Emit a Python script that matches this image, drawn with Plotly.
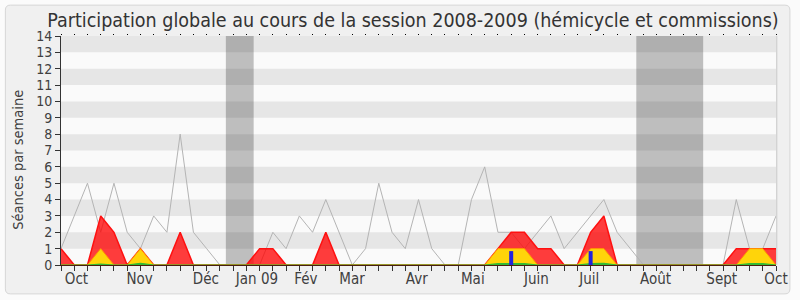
import plotly.graph_objects as go

# ---------------- data ----------------
weeks = list(range(55))
gray_total = [1, 3, 5, 2, 5, 2, 1, 3, 2, 8, 2, 1, 0, 0, 0, 0, 2, 1, 3, 2,
              4, 2, 0, 1, 5, 2, 1, 4, 1, 0, 0, 4, 6, 2, 2, 1, 2, 3, 1, 2,
              3, 4, 2, 1, 0, 0, 0, 0, 0, 0, 0, 4, 1, 1, 3]
red_series = [1, 0, 0, 3, 2, 0, 1, 0, 0, 2, 0, 0, 0, 0, 0, 1, 1, 0, 0, 0,
              2, 0, 0, 0, 0, 0, 0, 0, 0, 0, 0, 0, 0, 1, 2, 2, 1, 1, 0, 0,
              2, 3, 0, 0, 0, 0, 0, 0, 0, 0, 0, 1, 1, 1, 1]
yellow_series = [0, 0, 0, 1, 0, 0, 1, 0, 0, 0, 0, 0, 0, 0, 0, 0, 0, 0, 0, 0,
                 0, 0, 0, 0, 0, 0, 0, 0, 0, 0, 0, 0, 0, 1, 1, 1, 0, 0, 0, 0,
                 1, 1, 0, 0, 0, 0, 0, 0, 0, 0, 0, 0, 1, 1, 0]
green_series = [0, 0, 0, 0.05, 0, 0, 0.1, 0, 0, 0, 0, 0, 0, 0, 0, 0, 0, 0, 0, 0,
                0, 0, 0, 0, 0, 0, 0, 0, 0, 0, 0, 0, 0, 0.08, 0.08, 0.08, 0, 0, 0, 0,
                0.08, 0.1, 0, 0, 0, 0, 0, 0, 0, 0, 0, 0, 0.08, 0.08, 0]
blue_weeks = [34, 40]
blue_values = [0.85, 0.85]
month_labels = ["Oct", "Nov", "Déc", "Jan 09", "Fév", "Mar", "Avr", "Mai",
                "Juin", "Juil", "Août", "Sept", "Oct"]
month_label_weeks = [1.17, 5.94, 10.94, 14.8, 18.5, 21.98, 26.87, 31.1,
                     35.9, 39.9, 44.9, 49.9, 54.0]
vacation_start = [12.45, 43.45]
vacation_end = [14.55, 48.5]
y_ticks = list(range(0, 15))

# ---------------- layout constants ----------------
W, H = 800, 300
L, R, T, B = 61, 19, 36, 34
PW, PH = W - L - R, H - T - B
FONT = "DejaVu Sans Condensed, DejaVu Sans, sans-serif"


def px_x(p):
    return (p - L) / PW


def px_y(p):
    return (H - B - p) / PH


fig = go.Figure()

fig.add_trace(go.Scatter(x=weeks, y=gray_total, mode="lines",
                         line=dict(color="#b4b4b4", width=1), hoverinfo="skip"))
fig.add_trace(go.Scatter(x=weeks, y=red_series, mode="lines", fill="tozeroy",
                         fillcolor="rgba(255,0,0,0.76)",
                         line=dict(color="#ff1010", width=1.5), hoverinfo="skip"))
fig.add_trace(go.Scatter(x=weeks, y=yellow_series, mode="lines", fill="tozeroy",
                         fillcolor="rgb(255,212,10)",
                         line=dict(color="#ff9a00", width=1), hoverinfo="skip"))
fig.add_trace(go.Scatter(x=weeks, y=green_series, mode="lines", fill="tozeroy",
                         fillcolor="#33bb33",
                         line=dict(color="#33bb33", width=1.2), hoverinfo="skip"))
# blue bars drawn as thick vertical segments so they sit above the fills
bx, by = [], []
for w, v in zip(blue_weeks, blue_values):
    bx += [w, w, None]
    by += [0, v, None]
fig.add_trace(go.Scatter(x=bx, y=by, mode="lines",
                         line=dict(color="#2222dd", width=4), hoverinfo="skip"))
# invisible trace to carry the top tick axis
fig.add_trace(go.Scatter(x=[0], y=[0], xaxis="x2", mode="markers",
                         marker=dict(opacity=0), hoverinfo="skip"))

shapes = []
# outer rounded container
x0, x1 = px_x(5), px_x(795)
y0, y1 = px_y(295), px_y(5)
rx, ry = 5 / PW, 5 / PH
path = (f"M {x0+rx},{y1} L {x1-rx},{y1} Q {x1},{y1} {x1},{y1-ry} "
        f"L {x1},{y0+ry} Q {x1},{y0} {x1-rx},{y0} L {x0+rx},{y0} "
        f"Q {x0},{y0} {x0},{y0+ry} L {x0},{y1-ry} Q {x0},{y1} {x0+rx},{y1} Z")
shapes.append(dict(type="path", path=path, xref="paper", yref="paper",
                   fillcolor="#f0f0f0", line=dict(color="#d6d6d6", width=1),
                   layer="below"))
# plot background + stripes
shapes.append(dict(type="rect", xref="x", yref="y", x0=0, x1=54, y0=0, y1=14,
                   fillcolor="#fafafa", line=dict(width=0), layer="below"))
for k in y_ticks[:-1]:
    if k % 2 == 1:
        shapes.append(dict(type="rect", xref="x", yref="y", x0=0, x1=54,
                           y0=k, y1=k + 1, fillcolor="#e6e6e6",
                           line=dict(width=0), layer="below"))
for s, e in zip(vacation_start, vacation_end):
    shapes.append(dict(type="rect", xref="x", yref="y", x0=s, x1=e, y0=0, y1=14,
                       fillcolor="rgba(0,0,0,0.24)", line=dict(width=0),
                       layer="below"))
# right shadow edge
shapes.append(dict(type="line", xref="paper", yref="paper",
                   x0=1 + 0.8 / PW, x1=1 + 0.8 / PW, y0=0, y1=1,
                   line=dict(color="#c8c8c8", width=1), layer="above"))

fig.update_layout(
    width=W, height=H,
    margin=dict(l=L, r=R, t=T, b=B, pad=0),
    paper_bgcolor="#fbfbfb",
    plot_bgcolor="rgba(0,0,0,0)",
    showlegend=False,
    shapes=shapes,
    font=dict(family=FONT, color="#333333"),
    title=dict(text="Participation globale au cours de la session 2008-2009 (hémicycle et commissions)",
               x=413 / W, xanchor="center", y=1 - 20 / H, yanchor="middle",
               font=dict(size=19.5, family=FONT, color="#333333")),
    xaxis=dict(range=[0, 54], showgrid=False, zeroline=False,
               tickmode="array", tickvals=month_label_weeks, ticktext=month_labels,
               ticks="", showline=True, linecolor="#4a1e10", linewidth=1,
               tickfont=dict(size=15, family=FONT, color="#404040"),
               minor=dict(tickmode="array", tickvals=weeks, ticks="outside",
                          ticklen=5, tickcolor="#333333", tickwidth=1,
                          showgrid=False),
               fixedrange=True),
    xaxis2=dict(range=[0, 54], overlaying="x", side="top", anchor="y",
                tickmode="array", tickvals=weeks, ticks="outside", ticklen=1,
                tickcolor="#000000", tickwidth=1, showticklabels=False,
                showline=False, showgrid=False, zeroline=False),
    yaxis=dict(range=[0, 14], showgrid=False, zeroline=False,
               tickmode="array", tickvals=y_ticks, ticks="outside", ticklen=5,
               tickcolor="#333333", showline=True, linecolor="#333333",
               linewidth=1, tickfont=dict(size=14, family=FONT, color="#404040"),
               fixedrange=True),
    annotations=[dict(text="Séances par semaine", textangle=-90,
                      xref="paper", yref="paper", x=px_x(18), y=px_y(160),
                      xanchor="center", yanchor="middle", showarrow=False,
                      font=dict(size=14.5, family=FONT, color="#404040"))],
)

fig.write_html("out.html")
